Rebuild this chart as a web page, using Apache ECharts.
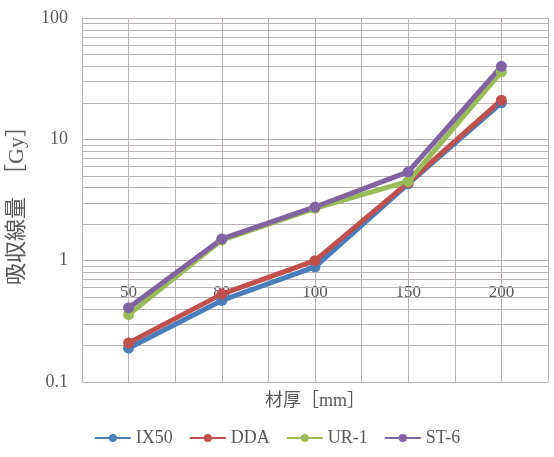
<!DOCTYPE html>
<html>
<head>
<meta charset="utf-8">
<script src="https://cdn.jsdelivr.net/npm/echarts@6/dist/echarts.min.js"></script>
<style>
  html, body { margin: 0; padding: 0; background: #fff; }
  #chart { width: 554px; height: 457px; }
</style>
</head>
<body>
<div id="chart"></div>
<script>
// 材厚 [mm]
var thickness = ['50', '80', '100', '150', '200'];
// 吸収線量 [Gy]
var ix50 = [0.19, 0.47, 0.89, 4.3, 20];
var dda = [0.21, 0.53, 1.0, 4.4, 21];
var ur1 = [0.36, 1.48, 2.7, 4.5, 36];
var st6 = [0.41, 1.51, 2.77, 5.4, 40];
var yTicks = [0.1, 1, 10, 100];
// 対数軸の補助目盛線 (2〜9)
var minorTicks = [];
[0.1, 1, 10].forEach(function (d) {
  for (var k = 2; k <= 9; k++) minorTicks.push(+(d * k).toPrecision(2));
});

var font = "'Liberation Serif', 'Noto Sans CJK JP', serif";
var txt = '#595959';
var gridColor = '#bab4b2';

function pairs(arr) {
  return arr.map(function (v, i) { return [i + 1, v]; });
}

function lineSeries(name, color, arr) {
  return {
    name: name,
    type: 'line',
    data: pairs(arr),
    symbol: 'circle',
    symbolSize: 11,
    itemStyle: { color: color },
    lineStyle: { color: color, width: 5 }
  };
}

var myChart = echarts.init(document.getElementById('chart'));
myChart.setOption({
  animation: false,
  grid: { left: 82, right: 6, top: 18, bottom: 75, containLabel: false, outerBoundsMode: 'none' },
  legend: {
    bottom: 5,
    left: 'center',
    itemWidth: 36,
    itemHeight: 10,
    itemGap: 16,
    textStyle: { fontFamily: font, fontSize: 18, color: txt },
    data: ['IX50', 'DDA', 'UR-1', 'ST-6']
  },
  xAxis: {
    type: 'value',
    min: 0.5,
    max: 5.5,
    interval: 0.5,
    name: '材厚［mm］',
    nameLocation: 'middle',
    nameGap: 10,
    nameTextStyle: { fontFamily: font, fontSize: 18, color: txt, verticalAlign: 'top' },
    axisLine: { show: true, lineStyle: { color: gridColor } },
    axisTick: { show: false },
    axisLabel: {
      margin: -98,
      fontFamily: font,
      fontSize: 17,
      color: txt,
      formatter: function (v) {
        return Number.isInteger(v) ? thickness[v - 1] : '';
      }
    },
    splitLine: { show: true, lineStyle: { color: gridColor, width: 1 } }
  },
  yAxis: {
    type: 'log',
    logBase: 10,
    min: yTicks[0],
    max: yTicks[yTicks.length - 1],
    name: '吸収線量  ［Gy］',
    nameLocation: 'middle',
    nameGap: 54,
    nameRotate: 90,
    nameTextStyle: { fontFamily: font, fontSize: 22, color: txt },
    axisLine: { show: true, lineStyle: { color: gridColor } },
    axisTick: { show: false },
    axisLabel: {
      margin: 14,
      fontFamily: font,
      fontSize: 18,
      color: txt,
      formatter: function (v) { return String(+v.toPrecision(3)); }
    },
    splitLine: { show: true, lineStyle: { color: gridColor, width: 1 } }
  },
  series: [
    {
      name: 'grid-minor',
      type: 'line',
      data: [],
      silent: true,
      markLine: {
        silent: true,
        z: 1,
        symbol: 'none',
        label: { show: false },
        lineStyle: { color: gridColor, type: 'solid', width: 1 },
        data: minorTicks.map(function (v) { return { yAxis: v }; })
      }
    },
    lineSeries('IX50', '#4a7ebb', ix50),
    lineSeries('DDA', '#c0504d', dda),
    lineSeries('UR-1', '#9bbb59', ur1),
    lineSeries('ST-6', '#8064a2', st6)
  ]
});
</script>
</body>
</html>
